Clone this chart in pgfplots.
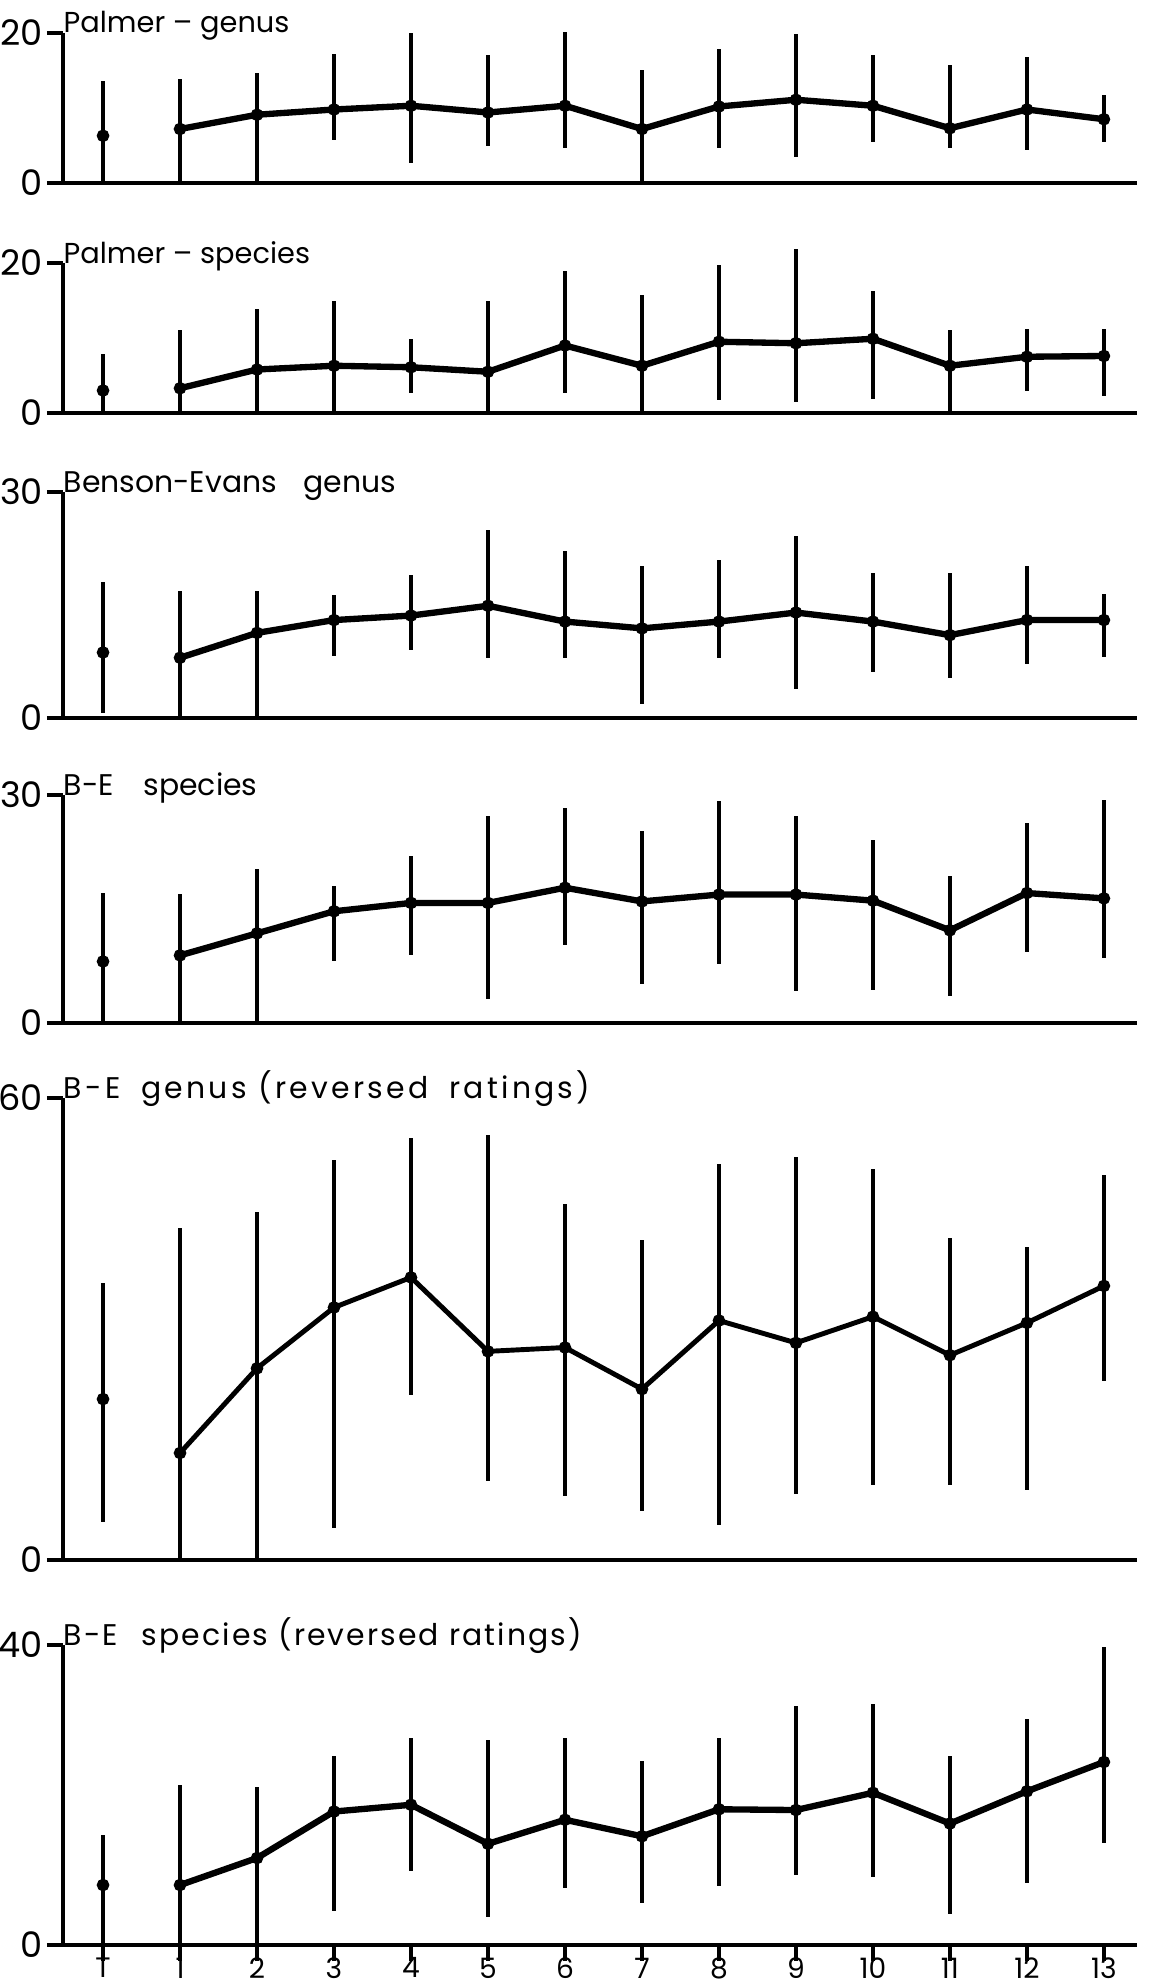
\documentclass[border=0pt]{standalone}
\usepackage{fontspec}
\setmainfont{Poppins}
\newfontfamily\spacedwide[LetterSpace=11]{Poppins}
\newfontfamily\spacedmid[LetterSpace=7]{Poppins}
\usepackage{pgfplots}
\pgfplotsset{compat=1.18}
\usepackage{pgfplotstable}

% columns: position (0 = T), mean, lower end, upper end of the range bar
\pgfplotstableread{
x y lo hi
0 6.3 0 13.6
1 7.2 0 13.8
2 9.1 0 14.7
3 9.8 5.75 17.2
4 10.3 2.7 20.0
5 9.4 4.9 17.0
6 10.3 4.6 20.1
7 7.2 0 15.0
8 10.2 4.6 17.8
9 11.1 3.5 19.8
10 10.3 5.5 17.0
11 7.3 4.6 15.7
12 9.8 4.4 16.8
13 8.5 5.4 11.7
}\palmergenus

\pgfplotstableread{
x y lo hi
0 3.0 0 7.9
1 3.3 0 11.1
2 5.8 0 13.9
3 6.3 0 14.9
4 6.1 2.7 9.9
5 5.5 0 15.0
6 9.0 2.7 19.0
7 6.3 0 15.7
8 9.5 1.8 19.8
9 9.3 1.5 21.9
10 9.9 1.9 16.3
11 6.3 0 11.1
12 7.5 3.0 11.2
13 7.6 2.3 11.2
}\palmerspecies

\pgfplotstableread{
x y lo hi
0 8.7 0.7 18.0
1 8.0 0 16.9
2 11.3 0 16.9
3 13.0 8.2 16.3
4 13.6 9.0 19.0
5 14.9 8.0 24.9
6 12.8 8.0 22.2
7 11.9 1.9 20.2
8 12.8 8.0 21.0
9 14.0 3.9 24.1
10 12.8 6.1 19.2
11 11.0 5.3 19.2
12 13.0 7.2 20.2
13 13.0 8.1 16.4
}\begenus

\pgfplotstableread{
x y lo hi
0 8.1 0 17.1
1 8.9 0 17.0
2 11.8 0 20.2
3 14.7 8.1 18.0
4 15.8 8.9 22.0
5 15.8 3.1 27.2
6 17.8 10.3 28.3
7 16.0 5.1 25.2
8 16.9 7.8 29.2
9 16.9 4.2 27.2
10 16.1 4.3 24.1
11 12.2 3.5 19.3
12 17.1 9.3 26.3
13 16.4 8.6 29.4
}\bespecies

\pgfplotstableread{
x y lo hi
0 20.9 4.9 36.0
1 13.9 0 43.1
2 24.9 0 45.2
3 32.8 4.2 52.0
4 36.7 21.4 54.8
5 27.1 10.3 55.2
6 27.6 8.3 46.3
7 22.2 6.4 41.5
8 31.1 4.6 51.4
9 28.2 8.6 52.4
10 31.6 9.8 50.8
11 26.6 9.8 41.8
12 30.8 9.1 40.7
13 35.6 23.3 50.0
}\bergenus

\pgfplotstableread{
x y lo hi
0 8.0 0 14.7
1 8.0 0 21.3
2 11.6 0 21.1
3 17.8 4.5 25.2
4 18.7 9.9 27.6
5 13.5 3.7 27.3
6 16.7 7.6 27.6
7 14.5 5.6 24.5
8 18.1 7.9 27.6
9 18.0 9.3 31.9
10 20.3 9.1 32.2
11 16.2 4.1 25.2
12 20.5 8.3 30.2
13 24.4 13.6 39.8
}\berspecies

\pgfplotsset{
  rating/.style={
    scale only axis, width=107.4mm,
    anchor=south west,
    xmin=-0.52, xmax=13.43, ymin=0,
    axis x line=bottom, axis y line=left,
    axis line style={-, line width=1.4pt, black},
    xtick=\empty,
    tick align=outside, major tick length=1.6mm,
    tick style={line width=1.2pt, black},
    yticklabel style={font=\fontsize{10}{11}\selectfont, inner sep=1pt},
    /pgf/number format/assume math mode=true,
    clip=false,
  },
  bars/.style={only marks, mark=*, mark size=1.6pt, black,
    error bars/.cd, y dir=both, y explicit, error mark=none,
    error bar style={line width=1pt, black}},
  trend/.style={black, line width=#1, mark=none, line join=round,
    restrict x to domain=0.5:13.5},
  trend/.default=1.7pt,
}

% range bars from the lo/hi columns, then the line through positions 1-13
\newcommand{\drawseries}[2]{%
  \addplot[bars] table[x=x, y=y,
      y error plus expr=\thisrow{hi}-\thisrow{y},
      y error minus expr=\thisrow{y}-\thisrow{lo}] {#1};
  \addplot[trend=#2] table[x=x, y=y] {#1};
}

\begin{document}
\begin{tikzpicture}[x=1mm, y=1mm]
\useasboundingbox (0,0) rectangle (115.5,-198.4);

\begin{axis}[rating, at={(6.3mm,-18.3mm)}, height=15mm, ymax=20, ytick={0,20}]
  \drawseries{\palmergenus}{1.8pt}
  \node[anchor=base west, inner sep=0pt, font=\fontsize{8.2}{9}\selectfont] at (rel axis cs:0,1) {Palmer – genus};
\end{axis}

\begin{axis}[rating, at={(6.3mm,-41.3mm)}, height=15mm, ymax=20, ytick={0,20}]
  \drawseries{\palmerspecies}{1.8pt}
  \node[anchor=base west, inner sep=0pt, font=\fontsize{8.2}{9}\selectfont] at (rel axis cs:0,1) {Palmer – species};
\end{axis}

\begin{axis}[rating, at={(6.3mm,-71.8mm)}, height=22.6mm, ymax=30, ytick={0,30}]
  \drawseries{\begenus}{1.8pt}
  \node[anchor=base west, inner sep=0pt, font=\fontsize{8.5}{10}\selectfont] at (rel axis cs:0,1) {Benson-Evans\hspace{0.9em}genus};
\end{axis}

\begin{axis}[rating, at={(6.3mm,-102.3mm)}, height=22.8mm, ymax=30, ytick={0,30}]
  \drawseries{\bespecies}{1.8pt}
  \node[anchor=base west, inner sep=0pt, font=\fontsize{8.5}{10}\selectfont] at (rel axis cs:0,1) {B-E\hspace{1em}species};
\end{axis}

\begin{axis}[rating, at={(6.3mm,-156.0mm)}, height=46.2mm, ymax=60, ytick={0,60}]
  \drawseries{\bergenus}{1.4pt}
  \node[anchor=base west, inner sep=0pt, font=\fontsize{8.5}{10}\spacedwide] at (rel axis cs:0,1) {B-E\hspace{0.7em}genus (reversed\hspace{0.7em}ratings)};
\end{axis}

\begin{axis}[rating, at={(6.3mm,-194.5mm)}, height=30mm, ymax=40, ytick={0,40},
    xtick={0,...,13}, xticklabels={T,1,2,3,4,5,6,7,8,9,10,11,12,13},
    xticklabel style={font=\fontsize{8}{9}\selectfont, inner sep=0pt, yshift=0.4mm},
    x tick style={line width=1pt}]
  \drawseries{\berspecies}{1.8pt}
  \node[anchor=base west, inner sep=0pt, font=\fontsize{8.5}{10}\spacedmid] at (rel axis cs:0,1) {B-E\hspace{0.8em}species (reversed ratings)};
\end{axis}
\end{tikzpicture}
\end{document}
